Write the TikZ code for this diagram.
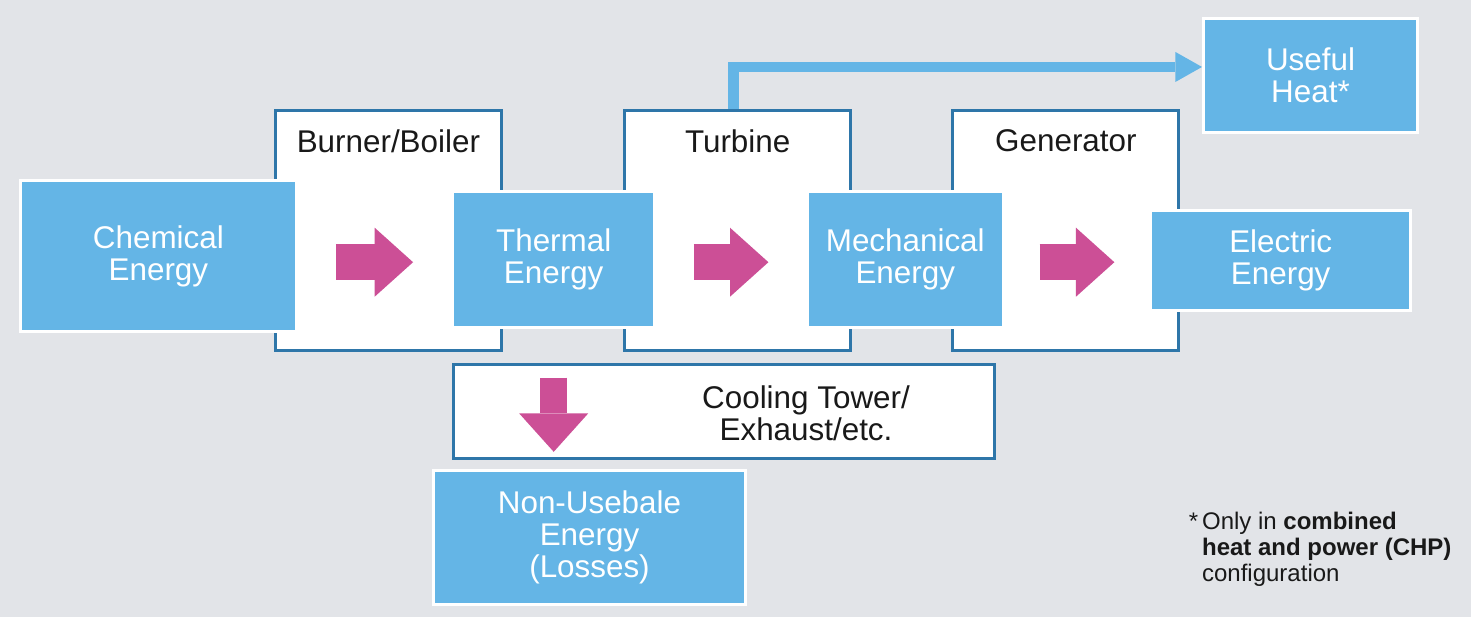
\documentclass[tikz,border=0pt]{standalone}
\usepackage{fontspec}
\setmainfont{Liberation Sans}
\usetikzlibrary{positioning,arrows.meta}
\definecolor{sky}{HTML}{64B5E6}
\definecolor{steel}{HTML}{2E76A9}
\definecolor{berry}{HTML}{CC4F96}
\definecolor{haze}{HTML}{E2E4E8}

\begin{document}
\begin{tikzpicture}[x=0.5pt,y=-0.5pt,
 stage/.style={draw=steel,line width=1.5pt,fill=white,inner sep=0pt,
 minimum width=113pt,minimum height=120pt},
 energy/.style={draw=white,line width=1.5pt,fill=sky,text=white,align=center,
 inner sep=0pt,font=\fontsize{15.7pt}{16pt}\selectfont},
 title/.style={inner sep=0pt,text=black!90,font=\fontsize{15.7pt}{16pt}\selectfont},
 note/.style={inner sep=0pt,align=left,text=black!90,font=\fontsize{12pt}{13pt}\selectfont},
 flow/.style={draw=berry,line width=18pt,-{Triangle[length=19.2pt,width=34.5pt,line width=0pt]},
 shorten <=#1,shorten >=#1},
 drop/.style={draw=berry,line width=13.5pt,-{Triangle[length=19.2pt,width=34.5pt,line width=0pt]},
 shorten <=24.25pt,shorten >=8.75pt},
 heatflow/.style={draw=sky,line width=5.25pt,-{Triangle[length=13.3pt,width=15pt,line width=0pt]}}]
\fill[haze] (0,0) rectangle (1471,617);
\node[stage] (burner) at (388.4,230.5) {};
\node[stage] (turbine) at (737.7,230.5) {};
\node[stage] (generator) at (1065.9,230.5) {};
\node[stage,minimum width=270.5pt,minimum height=46.85pt] (cooling) at (723.7,411.7) {};
\node[title,below=10pt of burner.north] (burnerlbl) {Burner/Boiler};
\node[title,below=10pt of turbine.north] (turbinelbl) {Turbine};
\node[title,below=10pt of generator.north] (generatorlbl) {Generator};
\node[title,align=center] (coolinglbl) at (806,413) {Cooling Tower/\\Exhaust/etc.};
\node[energy,minimum width=137.85pt,minimum height=75.35pt] (chem) at (158.4,255.9) {Chemical\\Energy};
\node[energy,minimum width=101.15pt,minimum height=68.15pt] (thermal) at (553.7,259.35) {Thermal\\Energy};
\node[energy,minimum width=97.75pt,minimum height=68.15pt] (mech) at (905.25,259.35) {Mechanical\\Energy};
\node[energy,minimum width=129.85pt,minimum height=50.3pt] (elec) at (1280.7,260.5) {Electric\\Energy};
\node[energy,minimum width=107pt,minimum height=56.85pt] (heat) at (1310.5,75.35) {Useful\\Heat*};
\node[energy,minimum width=156pt,minimum height=67pt] (loss) at (589.5,537.8) {Non-Usebale\\Energy\\(Losses)};
\coordinate (axis) at (0,262.2);
\draw[flow=19pt] (chem.east |- axis) -- (thermal.west |- axis);
\draw[flow=18.8pt] (thermal.east |- axis) -- (mech.west |- axis);
\draw[flow=17.5pt] (mech.east |- axis) -- (elec.west |- axis);
\draw[drop] (thermal.south) -- (thermal.south |- loss.north);
\draw[heatflow] ([xshift=-2.2pt]turbine.north) |- ([yshift=4.2pt]heat.west);
\node[note,anchor=north west] (note) at (1201.7,511.8) {\llap{*\,}Only in \textbf{combined}\\\textbf{heat and power (CHP)}\\configuration};
\end{tikzpicture}
\end{document}
